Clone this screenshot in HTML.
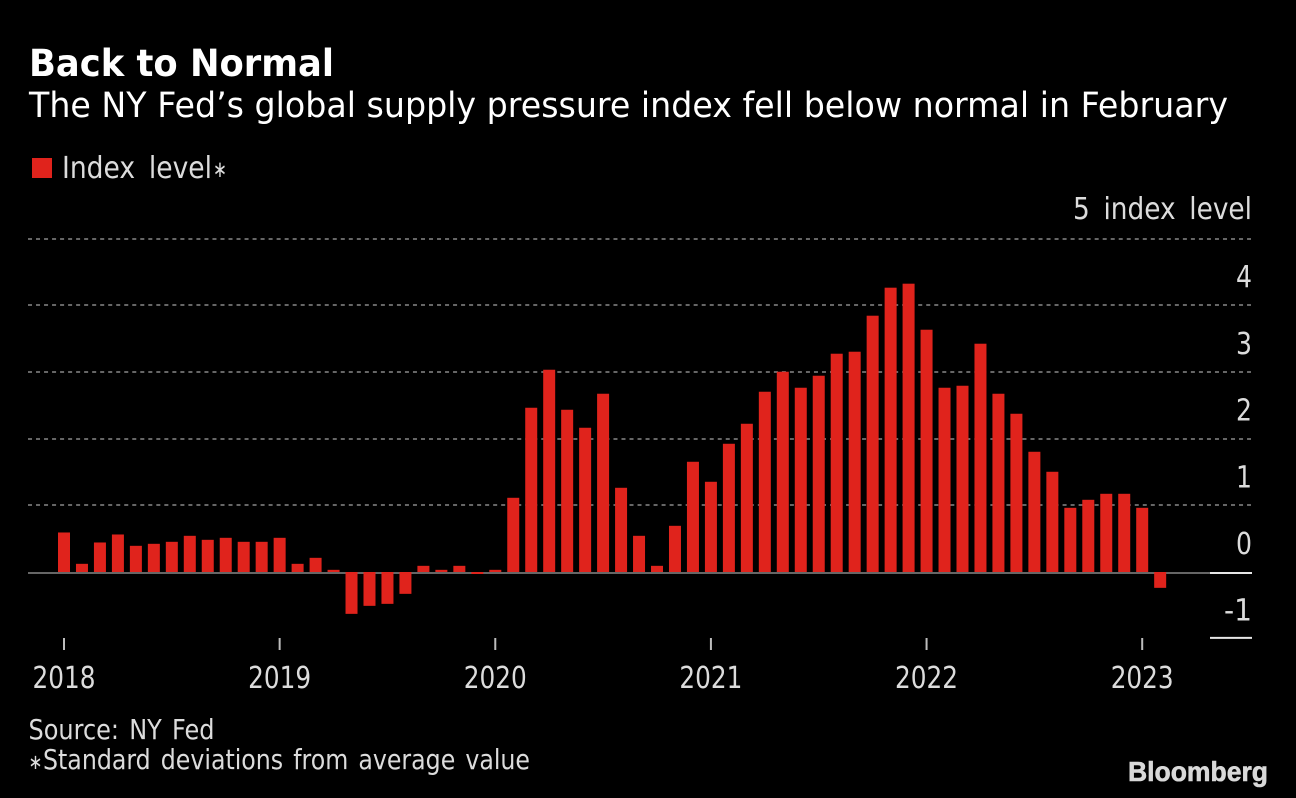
<!DOCTYPE html>
<html lang="en">
<head>
<meta charset="utf-8">
<title>Back to Normal</title>
<style>
html,body{margin:0;padding:0;background:#000;width:1296px;height:798px;overflow:hidden}
svg{display:block}
text{font-family:"DejaVu Sans","Liberation Sans",sans-serif;fill:#dcdcdc}
</style>
</head>
<body>
<svg id="chart" xmlns="http://www.w3.org/2000/svg" width="1296" height="798" viewBox="0 0 1296 798">
  <rect x="0" y="0" width="1296" height="798" fill="#000"/>
  <text x="29" y="76" font-size="37" font-weight="700" style="fill:#fff" textLength="305" lengthAdjust="spacingAndGlyphs">Back to Normal</text>
  <text x="29" y="117" font-size="35" style="fill:#fff" textLength="1199" lengthAdjust="spacingAndGlyphs">The NY Fed’s global supply pressure index fell below normal in February</text>
  <rect x="32" y="158" width="20" height="20" fill="#e0231c"/>
  <text x="62" y="178" font-size="30" word-spacing="6" textLength="150" lengthAdjust="spacingAndGlyphs">Index level</text>
  <text x="213" y="177" font-size="23" textLength="14" lengthAdjust="spacingAndGlyphs">∗</text>
  <g id="axes-under"></g>
  <g id="grid"></g>
  <g id="bars"></g>
  <g id="axes"></g>
  <text x="28.5" y="739" font-size="28" word-spacing="3" textLength="186" lengthAdjust="spacingAndGlyphs">Source: NY Fed</text>
  <text x="28.5" y="769" font-size="21" textLength="14" lengthAdjust="spacingAndGlyphs">∗</text>
  <text x="43" y="769" font-size="28" word-spacing="3" textLength="487" lengthAdjust="spacingAndGlyphs">Standard deviations from average value</text>
  <text x="1128" y="781" font-size="28" font-weight="700" textLength="140" lengthAdjust="spacingAndGlyphs" style="font-family:'Liberation Sans',sans-serif;fill:#d8d8d8;stroke:#d8d8d8;stroke-width:0.6">Bloomberg</text>
</svg>
<script>
const indexValues = [
  0.60, 0.13, 0.45, 0.57, 0.40, 0.43, 0.46, 0.55, 0.49, 0.52, 0.46, 0.46,
  0.52, 0.13, 0.22, 0.04, -0.62, -0.50, -0.47, -0.32, 0.10, 0.04, 0.10, -0.02,
  0.04, 1.12, 2.47, 3.04, 2.44, 2.17, 2.68, 1.27, 0.55, 0.10, 0.70, 1.66,
  1.36, 1.93, 2.23, 2.71, 3.01, 2.77, 2.95, 3.28, 3.31, 3.85, 4.27, 4.33,
  3.64, 2.77, 2.80, 3.43, 2.68, 2.38, 1.81, 1.51, 0.97, 1.09, 1.18, 1.18,
  0.97, -0.23
];
const yearLabels = ["2018", "2019", "2020", "2021", "2022", "2023"];
const gridTicks = [5, 4, 3, 2, 1];
const yTickValues = [5, 4, 3, 2, 1, 0, -1];
const yTickLabels = ["5 index level", "4", "3", "2", "1", "0", "-1"];
const yAxisMin = -0.98;

const NS = "http://www.w3.org/2000/svg";
const monthStep = 17.97;
function xScale(monthIndex) { return 64 + monthStep * monthIndex; }
function yScale(value) { return 572.5 - 66.7 * value; }
function make(tag, attrs, parent) {
  const el = document.createElementNS(NS, tag);
  for (const k in attrs) el.setAttribute(k, attrs[k]);
  parent.appendChild(el);
  return el;
}

const gridGroup = document.getElementById("grid");
gridTicks.forEach(function (v) {
  const gy = Math.floor(yScale(v));
  const line = make("line", { x1: 28, x2: 1251, y1: gy, y2: gy, stroke: "#666", "stroke-width": 2, "stroke-dasharray": "4.01 4.01" }, gridGroup);
  
  
});

const underGroup = document.getElementById("axes-under");
const zeroLine = make("line", { x1: 28, x2: 1210, y1: 573, y2: 573, stroke: "#666", "stroke-width": 2 }, underGroup);



const barGroup = document.getElementById("bars");
indexValues.forEach(function (v, i) {
  const base = Math.floor(yScale(0));
  const top = Math.min(yScale(v), base);
  const bottom = Math.max(yScale(v), base);
  const bar = make("rect", { x: xScale(i) - 6, y: top, width: 12, height: Math.max(bottom - top, 2), fill: "#e0231c" }, barGroup);
  
  
});

const axisGroup = document.getElementById("axes");
const zeroCap = make("line", { x1: 1210, x2: 1252, y1: 573, y2: 573, stroke: "#e6e6e6", "stroke-width": 2 }, axisGroup);


const bottomCap = make("line", { x1: 1210, x2: 1252, y1: yScale(yAxisMin), y2: yScale(yAxisMin), stroke: "#e6e6e6", "stroke-width": 2 }, axisGroup);



yearLabels.forEach(function (label, i) {
  const x = xScale(i * 12);
  const tick = make("line", { x1: x, x2: x, y1: 638, y2: 650, stroke: "#bdbdbd", "stroke-width": 2 }, axisGroup);
  
  
  const text = make("text", { x: x - 31.5, y: 688, "font-size": 30, textLength: 63, lengthAdjust: "spacingAndGlyphs" }, axisGroup);
  text.textContent = label;
  
  
});

yTickLabels.forEach(function (label, i) {
  const isUnit = label.length > 2;
  const width = isUnit ? 179 : (label.length === 2 ? 28 : 16);
  const attrs = { x: 1252 - width, y: yScale(yTickValues[i]) - (isUnit ? 20 : 18.5), "font-size": 30, textLength: width, lengthAdjust: "spacingAndGlyphs" };
  if (isUnit) attrs["word-spacing"] = 6;
  const text = make("text", attrs, axisGroup);
  text.textContent = label;
  
  
});
</script>
</body>
</html>
